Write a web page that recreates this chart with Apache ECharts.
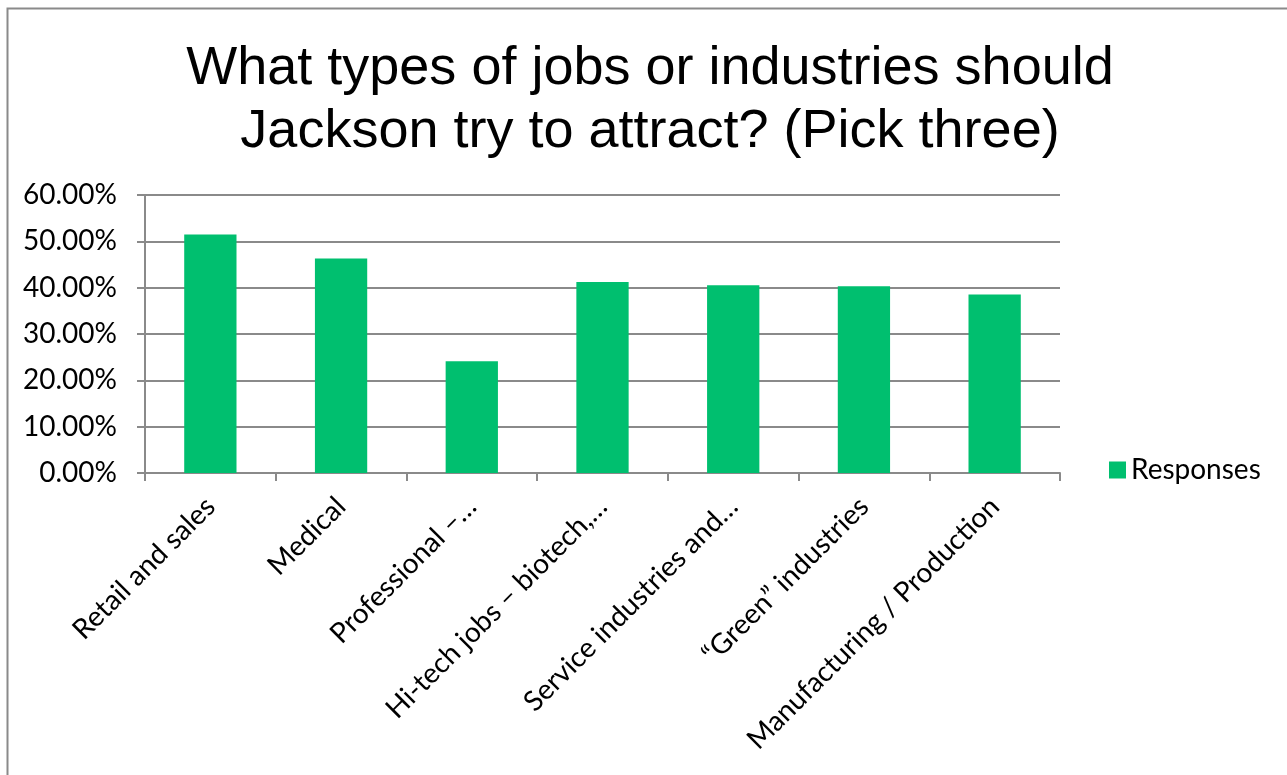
<!DOCTYPE html>
<html>
<head>
<meta charset="utf-8">
<script src="https://cdn.jsdelivr.net/npm/echarts@6/dist/echarts.min.js"></script>
<style>
html,body{margin:0;padding:0;background:#fff;}
#chart{width:1287px;height:775px;}
</style>
</head>
<body>
<div id="chart"></div>
<script>
var categories = ["Retail and sales", "Medical", "Professional –…", "Hi-tech jobs – biotech,…", "Service industries and…", "“Green” industries", "Manufacturing / Production"];
var responses = [51.5, 46.3, 24.1, 41.2, 40.5, 40.3, 38.5];
var seriesName = "Responses";
var titleText = "What types of jobs or industries should\nJackson try to attract? (Pick three)";

var chart = echarts.init(document.getElementById('chart'));
var labelFont = 'Lato, "Open Sans", sans-serif';
var gray = '#8a8a8a';
chart.setOption({
  backgroundColor: '#ffffff',
  animation: false,
  graphic: [{
    type: 'rect',
    shape: {x: 7.5, y: 8.5, width: 1400, height: 900},
    style: {fill: 'none', stroke: '#8a8a8a', lineWidth: 2},
    silent: true
  }],
  title: {
    text: titleText,
    left: 645,
    textAlign: 'center',
    top: 33,
    textStyle: {fontFamily: '"Liberation Sans", Arial, sans-serif', fontSize: 54, fontWeight: 'normal', color: '#000', lineHeight: 63}
  },
  legend: {
    data: [seriesName],
    left: 1109,
    top: 456,
    padding: 0,
    itemWidth: 17,
    itemHeight: 17,
    itemGap: 8,
    icon: 'rect',
    textStyle: {fontFamily: labelFont, fontSize: 28, color: '#000'}
  },
  grid: {left: 145, right: 227, top: 195, bottom: 302, containLabel: false},
  xAxis: {
    type: 'category',
    data: categories,
    axisLine: {lineStyle: {color: gray, width: 2}},
    axisTick: {show: true, length: 8, lineStyle: {color: gray, width: 2}},
    axisLabel: {rotate: 45, interval: 0, margin: 29, fontFamily: labelFont, fontSize: 28, color: '#000'}
  },
  yAxis: {
    type: 'value',
    min: 0, max: 60, interval: 10,
    axisLine: {show: true, lineStyle: {color: gray, width: 2}},
    axisTick: {show: true, length: 8, lineStyle: {color: gray, width: 2}},
    splitLine: {lineStyle: {color: gray, width: 2}},
    axisLabel: {margin: 28, fontFamily: labelFont, fontSize: 28, color: '#000', formatter: function(v){return v.toFixed(2) + '%';}}
  },
  series: [{
    name: seriesName,
    type: 'bar',
    data: responses,
    barWidth: '40%',
    itemStyle: {color: '#00BF6F'}
  }]
});
</script>
</body>
</html>
